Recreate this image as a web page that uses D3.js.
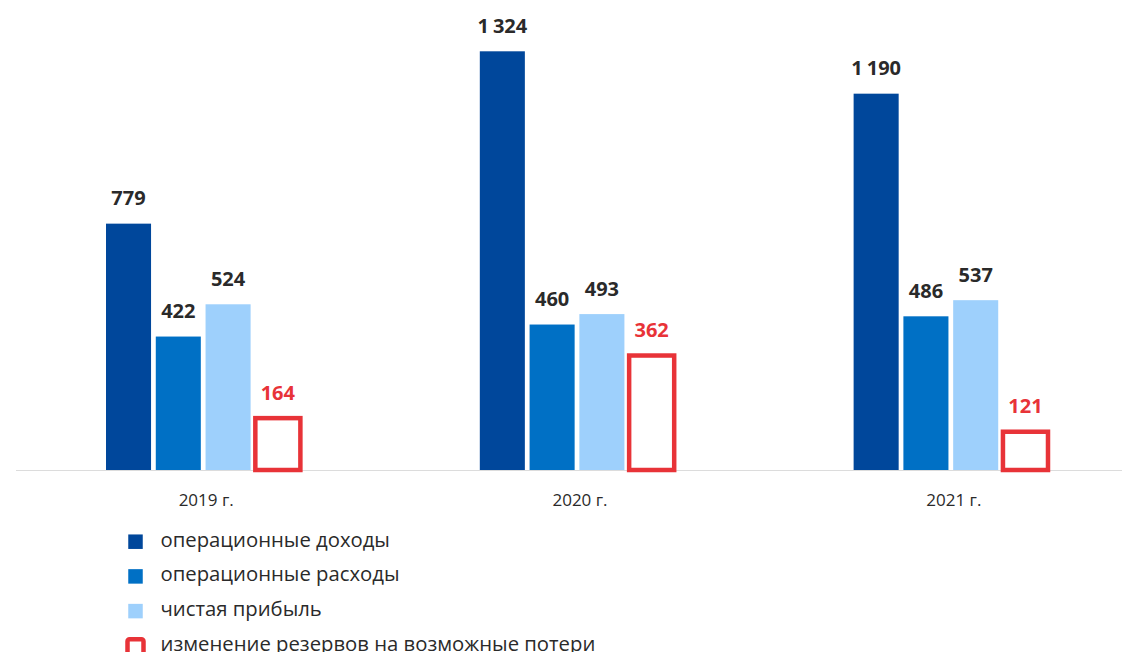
<!DOCTYPE html>
<html>
<head>
<meta charset="utf-8">
<script src="https://cdn.jsdelivr.net/npm/d3@7"></script>
<style>
  html, body { margin: 0; padding: 0; background: #fff; }
  svg { display: block; }
</style>
</head>
<body>
<script>
// chart data
const years = ["2019 г.", "2020 г.", "2021 г."]
const seriesNames = [
    "операционные доходы",
    "операционные расходы",
    "чистая прибыль",
    "изменение резервов на возможные потери"
]
const operIncome = [779, 1324, 1190]
const operExpense = [422, 460, 486]
const netProfit = [524, 493, 537]
const reserveChange = [164, 362, 121]

const colors = ["#00479b", "#0070c5", "#9ed0fc", "#e83338"]

const width = 1122
const height = 652
const baseY = 470

const rows = years.map((yr, i) => ({
    year: yr,
    values: [operIncome[i], operExpense[i], netProfit[i], reserveChange[i]]
}))

const svg = d3.select("body").append("svg")
    .attr("width", width)
    .attr("height", height)
    .attr("font-family", "'Open Sans', sans-serif")

const x = d3.scaleBand()
    .domain(years)
    .range([106, 1048])
    .paddingInner(0.48)
    .paddingOuter(0)

const xs = d3.scaleBand()
    .domain(d3.range(4))
    .range([0, x.bandwidth()])
    .paddingInner(0.095)

const y = d3.scaleLinear()
    .domain([0, 1324])
    .range([baseY, 51.3])

// baseline
svg.append("line")
    .attr("x1", 16)
    .attr("x2", width)
    .attr("y1", baseY + 0.5)
    .attr("y2", baseY + 0.5)
    .attr("stroke", "#dcdcdc")
    .attr("stroke-width", 1.2)

const grp = svg.selectAll("g.year")
    .data(rows)
    .enter()
    .append("g")
    .attr("class", "year")
    .attr("transform", d => `translate(${x(d.year)},0)`)

grp.selectAll("rect")
    .data(d => d.values.map((v, k) => ({v, k})))
    .enter()
    .append("rect")
    .attr("x", d => xs(d.k))
    .attr("y", d => y(d.v))
    .attr("width", xs.bandwidth())
    .attr("height", d => baseY - y(d.v))
    .attr("fill", d => d.k === 3 ? "#fff" : colors[d.k])
    .attr("stroke", d => d.k === 3 ? colors[3] : "none")
    .attr("stroke-width", 4.5)

// value labels, thousands split with a small gap
const labels = grp.selectAll("text.val")
    .data(d => d.values.map((v, k) => ({v, k})))
    .enter()
    .append("text")
    .attr("class", "val")
    .attr("x", d => xs(d.k) + xs.bandwidth() / 2)
    .attr("y", d => y(d.v) - 18.5)
    .attr("text-anchor", "middle")
    .attr("font-size", 20)
    .attr("font-weight", 700)
    .attr("fill", d => d.k === 3 ? colors[3] : "#2a2a2a")

labels.each(function(d) {
    const t = d3.select(this)
    if (d.v >= 1000) {
        t.append("tspan").text(Math.floor(d.v / 1000)).attr("letter-spacing", -1)
        t.append("tspan").attr("dx", 5).text(String(d.v % 1000).padStart(3, "0"))
    } else {
        t.text(d.v)
    }
})

// year labels
svg.selectAll("text.year")
    .data(years)
    .enter()
    .append("text")
    .attr("class", "year")
    .attr("x", d => x(d) + x.bandwidth() / 2 + 3)
    .attr("y", baseY + 35.5)
    .attr("text-anchor", "middle")
    .attr("font-size", 17)
    .attr("fill", "#2a2a2a")
    .text(d => d)

// legend
const legend = svg.selectAll("g.legend")
    .data(seriesNames)
    .enter()
    .append("g")
    .attr("class", "legend")
    .attr("transform", (d, i) => `translate(135.5,${541.7 + i * 34.7})`)

legend.append("rect")
    .attr("x", (d, i) => i === 3 ? -8 : -7.25)
    .attr("y", (d, i) => i === 3 ? -6.5 : -7.25)
    .attr("width", (d, i) => i === 3 ? 16 : 14.5)
    .attr("height", (d, i) => i === 3 ? 16 : 14.5)
    .attr("rx", (d, i) => i === 3 ? 2 : 0)
    .attr("fill", (d, i) => i === 3 ? "#fff" : colors[i])
    .attr("stroke", (d, i) => i === 3 ? colors[3] : "none")
    .attr("stroke-width", 4.5)

legend.append("text")
    .attr("x", 25)
    .attr("y", 5)
    .attr("font-size", 20.3)
    .attr("fill", "#2a2a2a")
    .text(d => d)
</script>
</body>
</html>
